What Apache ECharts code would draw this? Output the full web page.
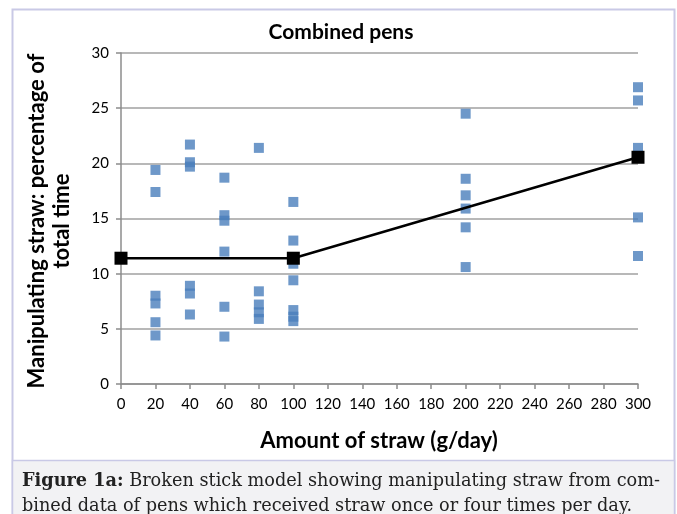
<!DOCTYPE html>
<html>
<head>
<meta charset="utf-8">
<script src="https://cdn.jsdelivr.net/npm/echarts@6/dist/echarts.min.js"></script>
<style>
html,body{margin:0;padding:0;background:#fff;}
#chart{width:677px;height:514px;}
</style>
</head>
<body>
<div id="chart"></div>
<script>
// ---- data ----
var strawLevels = [20, 40, 60, 80, 100, 200, 300];
var obs20  = [19.4, 17.4, 8.0, 7.3, 5.6, 4.4];
var obs40  = [21.7, 20.1, 19.7, 8.9, 8.2, 6.3];
var obs60  = [18.7, 15.3, 14.8, 12.0, 7.0, 4.3];
var obs80  = [21.4, 8.4, 7.2, 6.5, 5.9];
var obs100 = [16.5, 13.0, 10.9, 9.4, 6.7, 6.1, 5.7];
var obs200 = [24.5, 18.6, 17.1, 15.9, 14.2, 10.6];
var obs300 = [26.9, 25.7, 21.4, 15.1, 11.6];
var fitX = [0, 100, 300];
var fitY = [11.4, 11.4, 20.55];
var xTicks = [0,20,40,60,80,100,120,140,160,180,200,220,240,260,280,300];
var yTicks = [0,5,10,15,20,25,30];

var groups = [obs20, obs40, obs60, obs80, obs100, obs200, obs300];
var scatterData = [];
groups.forEach(function (g, i) {
  g.forEach(function (v) { scatterData.push([strawLevels[i], v]); });
});
var fitData = fitX.map(function (x, i) { return [x, fitY[i]]; });

var chart = echarts.init(document.getElementById('chart'));
var sans = 'Lato';
chart.setOption({
  animation: false,
  backgroundColor: '#ffffff',
  grid: { left: 121, right: 39, top: 53, bottom: 130 },
  xAxis: {
    type: 'value', min: 0, max: 300, interval: 20,
    axisLine: { show: true, lineStyle: { color: '#8c8c8c', width: 1.5 } },
    axisTick: { show: true, length: 5, lineStyle: { color: '#8c8c8c', width: 1.5 } },
    splitLine: { show: false },
    axisLabel: { color: '#000', fontFamily: sans, fontSize: 15, margin: 13,
      formatter: function (v) { return xTicks.indexOf(v) >= 0 ? String(v) : ''; } }
  },
  yAxis: {
    type: 'value', min: 0, max: 30, interval: 5,
    axisLine: { show: true, lineStyle: { color: '#8c8c8c', width: 1.5 } },
    axisTick: { show: true, length: 5, lineStyle: { color: '#8c8c8c', width: 1.5 } },
    splitLine: { show: true, lineStyle: { color: '#a0a0a0', width: 1.5 } },
    axisLabel: { color: '#000', fontFamily: sans, fontSize: 15, margin: 12,
      formatter: function (v) { return yTicks.indexOf(v) >= 0 ? String(v) : ''; } }
  },
  series: [
    {
      type: 'scatter', data: scatterData, symbol: 'rect', symbolSize: 10,
      itemStyle: { color: '#4a7ebb' }, z: 2
    },
    {
      type: 'line', data: fitData, symbol: 'rect', symbolSize: 13,
      lineStyle: { color: '#000', width: 2.5 }, itemStyle: { color: '#000' }, z: 5
    }
  ],
  graphic: [
    { type: 'rect', z: -10, shape: { x: 12.5, y: 9.5, width: 662, height: 520 },
      style: { fill: '#fff', stroke: '#c9c9e6', lineWidth: 2 } },
    { type: 'rect', z: -9, shape: { x: 12.5, y: 460.5, width: 662, height: 60 },
      style: { fill: '#f2f2f4', stroke: '#c9c9e6', lineWidth: 1.5 } },
    { type: 'text', z: 10, x: 341, y: 32,
      style: { text: 'Combined pens', font: 'bold 21px ' + sans, fill: '#000',
        textAlign: 'center', textVerticalAlign: 'middle' } },
    { type: 'text', z: 10, x: 379, y: 441,
      style: { text: 'Amount of straw (g/day)', font: 'bold 22px ' + sans, fill: '#000',
        textAlign: 'center', textVerticalAlign: 'middle' } },
    { type: 'text', z: 10, x: 49, y: 221, rotation: Math.PI / 2,
      style: { text: 'Manipulating straw: percentage of\ntotal time', font: 'bold 22px ' + sans,
        fill: '#000', textAlign: 'center', textVerticalAlign: 'middle', lineHeight: 25 } },
    { type: 'text', z: 10, x: 22, y: 469,
      style: { rich: { b: { font: 'bold 17.7px "DejaVu Serif"', fill: '#222' } },
        text: '{b|Figure 1a:} Broken stick model showing manipulating straw from com-\nbined data of pens which received straw once or four times per day.',
        font: '17.7px "DejaVu Serif"', fill: '#222', lineHeight: 25 } }
  ]
});
</script>
</body>
</html>
